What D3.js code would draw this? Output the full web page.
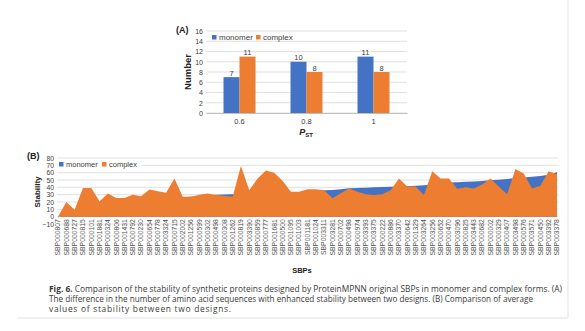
<!DOCTYPE html>
<html><head><meta charset="utf-8">
<script src="https://cdnjs.cloudflare.com/ajax/libs/d3/7.8.5/d3.min.js"></script>
<style>body{margin:0;background:#fff}svg{display:block}text{font-family:"Liberation Sans",Arial,sans-serif}text.cap{font-family:"Open Sans",sans-serif}</style>
</head><body><svg id="c" width="585" height="331"></svg>
<script>
// ---- Panel A data ----
const pstCategories = ["0.6", "0.8", "1"];
const seriesNames = ["monomer", "complex"];
const monomerCounts = [7, 10, 11];
const complexCounts = [11, 8, 8];
const numberTicks = [0, 2, 4, 6, 8, 10, 12, 14, 16];

// ---- Panel B data ----
const sbpLabels = ["SBP000807","SBP000688","SBP000727","SBP000815","SBP000101","SBP001881","SBP000324","SBP000806","SBP001431","SBP000792","SBP000230","SBP000654","SBP000778","SBP003324","SBP000715","SBP002002","SBP001256","SBP000599","SBP000302","SBP000498","SBP000308","SBP001262","SBP000819","SBP003390","SBP000859","SBP000777","SBP001681","SBP000500","SBP001095","SBP001003","SBP001181","SBP001024","SBP003311","SBP003281","SBP000702","SBP000498","SBP000974","SBP003393","SBP003375","SBP000222","SBP000886","SBP003370","SBP000642","SBP001329","SBP003264","SBP003256","SBP000652","SBP000470","SBP003096","SBP000825","SBP003443","SBP000682","SBP000002","SBP000329","SBP000407","SBP003498","SBP000576","SBP003571","SBP000450","SBP003392","SBP003378"];
const monomerStability = [-1,4,8,12,15,18,20,22,23,24,25,25.5,26,26.5,26.8,26.5,27,28,29,30,30.2,30.4,30.8,31.2,31.6,32,32.2,32.4,32.5,33,34,35,36,36.5,37.5,38.8,39.2,39.6,40,40.4,40.8,41.2,41.6,42,42.8,44,46,46.5,47,47.5,48,48.5,49.5,50.5,51.5,52.5,53.5,54.5,55.5,57,60.5];
const complexStability = [0,20,9.5,39,39,21,31.5,25.5,25.5,30,28,37,34.5,32.5,52,27,27,30,31.5,29.5,28.5,27,69,36,52,63,60,49,34,34,37.5,37.5,36,25,32,38.5,34,30.5,29.5,30.5,36,52,41,41,29.5,62,52,52,38,40,38.5,44,52,41,30.5,65,59,38.5,42,62,58];
const stabilityTicks = [-10, 0, 10, 20, 30, 40, 50, 60, 70, 80];

const captionBold = "Fig. 6.";
const captionLines = [
  " Comparison of the stability of synthetic proteins designed by ProteinMPNN original SBPs in monomer and complex forms. (A)",
  "The difference in the number of amino acid sequences with enhanced stability between two designs. (B) Comparison of average",
  "values of stability between two designs."
];

const BLUE = "#4472C4", ORANGE = "#ED7D31", GRID = "#d9d9d9", TXT = "#404040";
const colors = {monomer: BLUE, complex: ORANGE};
const svg = d3.select("#c");

// frame
svg.append("line").attr("x1", 568).attr("x2", 568).attr("y1", 0).attr("y2", 318).attr("stroke", "#e3e3e3");
svg.append("line").attr("x1", 17).attr("x2", 568).attr("y1", 318).attr("y2", 318).attr("stroke", "#e3e3e3");

// ================= Panel A =================
{
  const x0 = d3.scaleBand().domain(pstCategories).range([206, 407]).padding(0);
  const y = d3.scaleLinear().domain([0, 16]).range([113, 31]);
  const bw = 16;
  const x1 = d3.scaleBand().domain(seriesNames).range([x0.bandwidth() / 2 - bw, x0.bandwidth() / 2 + bw]);
  const g = svg.append("g");
  g.append("g").selectAll("line").data(numberTicks).join("line")
    .attr("x1", 206).attr("x2", 407).attr("y1", d => y(d)).attr("y2", d => y(d))
    .attr("stroke", GRID).attr("stroke-width", 0.8);
  const ya = g.append("g").attr("transform", "translate(206,0)")
    .call(d3.axisLeft(y).tickValues(numberTicks).tickSize(0).tickPadding(3));
  ya.select(".domain").remove();
  ya.selectAll("text").attr("font-size", 7).attr("fill", TXT).style("font-family", "Liberation Sans, Arial");
  const data = pstCategories.map((c, i) => ({c, monomer: monomerCounts[i], complex: complexCounts[i]}));
  const grp = g.append("g").selectAll("g").data(data).join("g").attr("transform", d => `translate(${x0(d.c)},0)`);
  grp.selectAll("rect").data(d => seriesNames.map(s => ({s, v: d[s]}))).join("rect")
    .attr("x", d => x1(d.s)).attr("width", x1.bandwidth())
    .attr("y", d => y(d.v)).attr("height", d => y(0) - y(d.v)).attr("fill", d => colors[d.s]);
  grp.selectAll("text.v").data(d => seriesNames.map(s => ({s, v: d[s]}))).join("text").attr("class", "v")
    .attr("x", d => x1(d.s) + x1.bandwidth() / 2).attr("y", d => y(d.v) - 1.5)
    .attr("text-anchor", "middle").attr("font-size", 7.5).attr("fill", TXT).text(d => d.v);
  const xa = g.append("g").attr("transform", "translate(0,113)")
    .call(d3.axisBottom(x0).tickSize(0).tickPadding(6));
  xa.select(".domain").attr("stroke", "#bfbfbf");
  xa.selectAll("text").attr("font-size", 7.5).attr("fill", TXT).style("font-family", "Liberation Sans, Arial");
  g.append("text").attr("transform", "translate(191,72) rotate(-90)").attr("text-anchor", "middle")
    .attr("font-size", 9.5).attr("font-weight", "bold").attr("fill", "#222").text("Number");
  const pt = g.append("text").attr("x", 306).attr("y", 135).attr("text-anchor", "middle")
    .attr("font-weight", "bold").attr("fill", "#222");
  pt.append("tspan").attr("font-size", 9).attr("font-style", "italic").text("P");
  pt.append("tspan").attr("font-size", 6).attr("dy", 2).text("ST");
  g.append("text").attr("x", 176).attr("y", 33).attr("font-size", 9).attr("font-weight", "bold").attr("fill", "#222").text("(A)");
  const lg = g.append("g");
  [[212, 219, "monomer"], [256, 263, "complex"]].forEach(([sx, tx, s]) => {
    lg.append("rect").attr("x", sx).attr("y", 35).attr("width", 4.5).attr("height", 4.5).attr("fill", colors[s]);
    lg.append("text").attr("x", tx).attr("y", 40).attr("font-size", 8).attr("fill", TXT).text(s);
  });
}

// ================= Panel B =================
{
  const x = d3.scalePoint().domain(d3.range(sbpLabels.length)).range([58, 557]);
  const y = d3.scaleLinear().domain([-10, 80]).range([224, 158]);
  const g = svg.append("g");
  g.append("g").selectAll("line").data(stabilityTicks).join("line")
    .attr("x1", 57).attr("x2", 558).attr("y1", d => y(d)).attr("y2", d => y(d))
    .attr("stroke", GRID).attr("stroke-width", 0.8);
  const ya = g.append("g").attr("transform", "translate(57,0)")
    .call(d3.axisLeft(y).tickValues(stabilityTicks).tickSize(0).tickPadding(3));
  ya.select(".domain").remove();
  ya.selectAll("text").attr("font-size", 6.8).attr("fill", TXT).style("font-family", "Liberation Sans, Arial");

  const area = vals => d3.area().x((d, i) => x(i)).y0(y(0)).y1(d => y(d))(vals);
  g.append("path").attr("d", area(monomerStability)).attr("fill", BLUE);
  g.append("path").attr("d", area(complexStability)).attr("fill", ORANGE);

  g.append("g").selectAll("text").data(sbpLabels).join("text")
    .attr("transform", (d, i) => `translate(${x(i) + 2.3},${y(0) + 2.5}) rotate(-90)`)
    .attr("text-anchor", "end").attr("font-size", 6.8).attr("fill", "#555").text(d => d);

  g.append("text").attr("transform", "translate(40,192) rotate(-90)").attr("text-anchor", "middle")
    .attr("font-size", 8).attr("font-weight", "bold").attr("fill", "#222").text("Stability");
  g.append("text").attr("x", 302).attr("y", 273).attr("text-anchor", "middle")
    .attr("font-size", 7.5).attr("font-weight", "bold").attr("fill", "#222").text("SBPs");
  g.append("text").attr("x", 27).attr("y", 159).attr("font-size", 9).attr("font-weight", "bold").attr("fill", "#222").text("(B)");
  const lg = g.append("g");
  lg.append("rect").attr("x", 58).attr("y", 160).attr("width", 84).attr("height", 8).attr("fill", "#fff");
  [[59, 66, "monomer"], [102, 109, "complex"]].forEach(([sx, tx, s]) => {
    lg.append("rect").attr("x", sx).attr("y", 162).attr("width", 4.5).attr("height", 4.5).attr("fill", colors[s]);
    lg.append("text").attr("x", tx).attr("y", 167).attr("font-size", 7.5).attr("fill", TXT).text(s);
  });
}

// ================= Caption =================
{
  const cg = svg.append("g").attr("fill", "#3a3a3a");
  const t1 = cg.append("text").attr("class", "cap").attr("x", 49).attr("y", 291.5).attr("font-size", 10);
  t1.append("tspan").attr("font-weight", "bold").text(captionBold);
  t1.append("tspan").text(captionLines[0]);
  const w = t1.node().getComputedTextLength();
  const fs = 10 * 514 / w;
  t1.attr("font-size", fs);
  cg.append("text").attr("class", "cap").attr("x", 49).attr("y", 301.5).attr("font-size", fs)
    .attr("textLength", 484).attr("lengthAdjust", "spacingAndGlyphs").text(captionLines[1]);
  cg.append("text").attr("class", "cap").attr("x", 49).attr("y", 311.5).attr("font-size", fs)
    .attr("textLength", 182).attr("lengthAdjust", "spacing").text(captionLines[2]);
}
</script></body></html>
